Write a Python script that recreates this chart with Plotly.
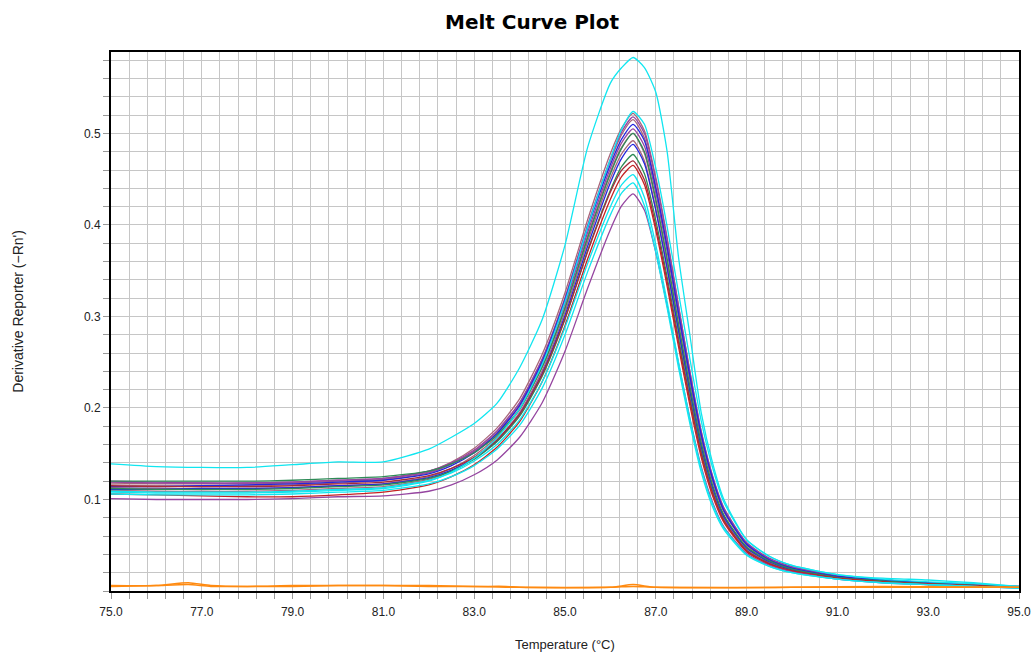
import plotly.graph_objects as go

# ---------------- data ----------------
temperature = [75.0, 76.0, 77.0, 78.0, 79.0, 80.0, 81.0, 82.0, 82.5, 83.0, 83.5, 84.0,
               84.5, 85.0, 85.5, 86.0, 86.25, 86.5, 86.75, 87.0, 87.25, 87.5, 87.75,
               88.0, 88.25, 88.5, 89.0, 89.5, 90.0, 91.0, 92.0, 93.0, 94.0, 95.0]

well_mauve_1 = [0.118,0.117,0.117,0.117,0.118,0.120,0.122,0.131,0.141,0.156,0.178,0.210,0.259,0.326,0.406,0.478,0.506,0.522,0.503,0.452,0.386,0.312,0.240,0.174,0.125,0.090,0.052,0.035,0.026,0.017,0.012,0.009,0.007,0.005]
well_mauve_2 = [0.116,0.115,0.115,0.115,0.116,0.118,0.121,0.129,0.139,0.153,0.174,0.205,0.253,0.320,0.399,0.470,0.499,0.515,0.495,0.442,0.376,0.303,0.233,0.168,0.121,0.087,0.050,0.034,0.025,0.016,0.012,0.009,0.006,0.004]
well_mauve_3 = [0.113,0.112,0.112,0.112,0.113,0.115,0.117,0.125,0.134,0.148,0.168,0.198,0.245,0.310,0.388,0.458,0.485,0.500,0.478,0.425,0.360,0.290,0.222,0.160,0.114,0.082,0.047,0.032,0.024,0.015,0.011,0.008,0.006,0.004]
well_mauve_4 = [0.110,0.109,0.109,0.109,0.110,0.112,0.114,0.122,0.131,0.145,0.165,0.195,0.241,0.305,0.382,0.451,0.478,0.492,0.470,0.417,0.352,0.283,0.216,0.155,0.110,0.079,0.045,0.031,0.023,0.015,0.011,0.008,0.006,0.004]
well_purple_1 = [0.120,0.119,0.118,0.118,0.119,0.121,0.123,0.131,0.140,0.154,0.175,0.206,0.254,0.320,0.400,0.472,0.502,0.518,0.500,0.449,0.384,0.311,0.240,0.175,0.126,0.091,0.053,0.036,0.027,0.017,0.012,0.009,0.007,0.005]
well_purple_2 = [0.119,0.118,0.118,0.118,0.119,0.121,0.123,0.130,0.139,0.152,0.172,0.202,0.249,0.314,0.392,0.462,0.490,0.505,0.486,0.435,0.371,0.300,0.231,0.168,0.121,0.087,0.051,0.034,0.025,0.016,0.012,0.009,0.007,0.005]
well_purple_3 = [0.101,0.100,0.100,0.100,0.101,0.103,0.104,0.109,0.116,0.127,0.143,0.168,0.206,0.262,0.331,0.395,0.421,0.434,0.416,0.370,0.312,0.249,0.189,0.136,0.097,0.070,0.041,0.028,0.021,0.013,0.009,0.007,0.005,0.003]
well_blue_1 = [0.114,0.114,0.115,0.116,0.117,0.119,0.121,0.128,0.137,0.151,0.172,0.203,0.251,0.318,0.397,0.466,0.494,0.510,0.492,0.440,0.376,0.304,0.235,0.171,0.123,0.088,0.051,0.034,0.025,0.016,0.012,0.009,0.006,0.004]
well_blue_2 = [0.111,0.111,0.112,0.112,0.113,0.115,0.117,0.124,0.132,0.145,0.164,0.193,0.238,0.301,0.377,0.446,0.473,0.488,0.467,0.416,0.353,0.285,0.219,0.158,0.113,0.081,0.047,0.032,0.023,0.015,0.011,0.008,0.006,0.004]
well_green_1 = [0.120,0.120,0.120,0.120,0.121,0.123,0.125,0.131,0.139,0.151,0.170,0.199,0.245,0.309,0.386,0.456,0.484,0.500,0.480,0.428,0.363,0.292,0.224,0.162,0.116,0.083,0.048,0.033,0.024,0.015,0.011,0.008,0.006,0.004]
well_green_2 = [0.112,0.111,0.111,0.111,0.112,0.114,0.116,0.123,0.131,0.144,0.163,0.191,0.235,0.297,0.372,0.438,0.464,0.477,0.456,0.405,0.343,0.276,0.211,0.152,0.108,0.077,0.044,0.030,0.022,0.014,0.010,0.008,0.006,0.004]
well_red_1 = [0.106,0.105,0.104,0.103,0.103,0.105,0.108,0.116,0.125,0.138,0.157,0.185,0.229,0.290,0.363,0.428,0.453,0.465,0.444,0.394,0.333,0.267,0.203,0.146,0.104,0.075,0.043,0.029,0.022,0.014,0.010,0.007,0.005,0.004]
well_red_2 = [0.115,0.114,0.114,0.114,0.115,0.117,0.119,0.126,0.134,0.146,0.165,0.193,0.237,0.298,0.371,0.436,0.460,0.470,0.449,0.399,0.338,0.272,0.208,0.150,0.107,0.077,0.044,0.030,0.022,0.014,0.010,0.008,0.006,0.004]
well_cyan_1 = [0.108,0.107,0.107,0.107,0.108,0.110,0.112,0.120,0.130,0.145,0.167,0.199,0.248,0.316,0.398,0.472,0.505,0.524,0.510,0.462,0.398,0.326,0.254,0.186,0.135,0.097,0.056,0.038,0.028,0.018,0.013,0.010,0.008,0.005]
well_cyan_2 = [0.109,0.108,0.108,0.108,0.109,0.111,0.113,0.121,0.129,0.142,0.160,0.187,0.229,0.288,0.358,0.420,0.444,0.455,0.430,0.378,0.316,0.250,0.188,0.134,0.095,0.069,0.040,0.027,0.020,0.013,0.009,0.007,0.005,0.003]
well_cyan_3 = [0.106,0.105,0.105,0.105,0.106,0.108,0.110,0.117,0.125,0.137,0.155,0.181,0.222,0.280,0.349,0.411,0.435,0.446,0.421,0.370,0.309,0.244,0.183,0.130,0.092,0.067,0.039,0.027,0.020,0.013,0.009,0.007,0.005,0.003]
well_cyan_high = [0.139,0.136,0.135,0.135,0.138,0.141,0.141,0.155,0.168,0.183,0.205,0.244,0.297,0.378,0.485,0.555,0.572,0.583,0.572,0.545,0.480,0.365,0.280,0.195,0.140,0.100,0.056,0.038,0.028,0.018,0.014,0.012,0.009,0.005]

ntc_temperature = [75.0, 76.0, 76.7, 77.2, 78.0, 79.0, 80.0, 81.0, 82.0, 83.0, 83.7, 84.0,
                   86.0, 86.5, 87.0, 90.0, 92.0, 95.0]
ntc_orange_1 = [0.006,0.006,0.009,0.006,0.005,0.006,0.006,0.006,0.006,0.005,0.005,0.004,0.004,0.007,0.004,0.004,0.005,0.004]
ntc_orange_2 = [0.005,0.006,0.007,0.005,0.005,0.005,0.006,0.006,0.005,0.005,0.004,0.004,0.004,0.005,0.004,0.004,0.004,0.004]

x_tick_labels = ["75.0", "77.0", "79.0", "81.0", "83.0", "85.0", "87.0", "89.0", "91.0", "93.0", "95.0"]
y_tick_values = [0.1, 0.2, 0.3, 0.4, 0.5]
y_tick_labels = ["0.1", "0.2", "0.3", "0.4", "0.5"]

# ---------------- styling ----------------
MAUVE = "#A9667A"
PURPLE = "#9545A0"
BLUE = "#2525DD"
GREEN = "#2E8B57"
RED = "#C42222"
DARKRED = "#A52A3A"
CYAN = "#10E6F0"
ORANGE = "#FF8A10"

series = [
    (well_mauve_1, MAUVE), (well_mauve_2, MAUVE), (well_mauve_3, MAUVE), (well_mauve_4, MAUVE),
    (well_purple_1, PURPLE), (well_purple_2, PURPLE), (well_blue_1, BLUE), (well_blue_2, BLUE),
    (well_green_1, GREEN), (well_green_2, GREEN), (well_red_2, DARKRED), (well_red_1, RED),
    (well_purple_3, PURPLE),
    (well_cyan_1, CYAN), (well_cyan_2, CYAN), (well_cyan_3, CYAN), (well_cyan_high, CYAN),
]

fig = go.Figure()
for ys, col in series:
    fig.add_trace(go.Scatter(x=temperature, y=ys, mode="lines",
                             line=dict(color=col, width=1.3, shape="spline", smoothing=0.6),
                             hoverinfo="skip", showlegend=False))
for ys in (ntc_orange_1, ntc_orange_2):
    fig.add_trace(go.Scatter(x=ntc_temperature, y=ys, mode="lines",
                             line=dict(color=ORANGE, width=1.5, shape="spline", smoothing=0.6),
                             hoverinfo="skip", showlegend=False))

GRID = "#C6C6C6"
TICKFONT = dict(family="Liberation Sans, Arial, sans-serif", size=12, color="#222222")

fig.update_layout(
    width=1032, height=653,
    margin=dict(l=111, r=13, t=52, b=62, autoexpand=False),
    paper_bgcolor="white", plot_bgcolor="white",
    showlegend=False,
    title=dict(text="<b>Melt Curve Plot</b>", x=532 / 1032, xref="container", xanchor="center",
               y=1 - 22 / 653, yref="container", yanchor="middle",
               font=dict(family="DejaVu Sans, Verdana, sans-serif", size=20, color="#000000")),
    xaxis=dict(
        range=[75, 95], tickmode="array", automargin=False,
        tickvals=[float(t) for t in x_tick_labels], ticktext=x_tick_labels,
        ticks="outside", ticklen=6, tickcolor="#999999", tickwidth=1,
        ticklabelstandoff=3,
        showgrid=True, gridcolor=GRID, gridwidth=1,
        minor=dict(tickmode="linear", tick0=75, dtick=0.4, ticks="outside", ticklen=6,
                   tickcolor="#999999", showgrid=True, gridcolor=GRID, gridwidth=1),
        showline=True, linecolor="#000000", linewidth=2, mirror=True,
        zeroline=False, tickfont=TICKFONT,
    ),
    yaxis=dict(
        range=[0, 0.589], tickmode="array", tickvals=y_tick_values, ticktext=y_tick_labels,
        automargin=False,
        ticks="outside", ticklen=6, tickcolor="#999999", tickwidth=1,
        showgrid=True, gridcolor=GRID, gridwidth=1,
        minor=dict(tickmode="linear", tick0=0, dtick=0.02, ticks="outside", ticklen=6,
                   tickcolor="#999999", showgrid=True, gridcolor=GRID, gridwidth=1),
        showline=True, linecolor="#000000", linewidth=2, mirror=True,
        zeroline=False, tickfont=TICKFONT,
    ),
    annotations=[
        dict(text="Temperature (°C)", xref="paper", yref="paper", x=0.5, y=0,
             xanchor="center", yanchor="middle", yshift=-53, showarrow=False,
             font=dict(family="Liberation Sans, Arial, sans-serif", size=13, color="#222222")),
        dict(text="Derivative Reporter (−Rn')", xref="paper", yref="paper",
             x=(18 - 111) / 908, y=(591 - 311.7) / 539, textangle=-90,
             xanchor="center", yanchor="middle", showarrow=False,
             font=dict(family="Liberation Sans, Arial, sans-serif", size=14, color="#222222")),
    ],
)

fig.write_html(
    "out.html",
    config={"displayModeBar": False, "staticPlot": True},
    post_script="document.body.style.margin='0';document.documentElement.style.overflow='hidden';",
)
